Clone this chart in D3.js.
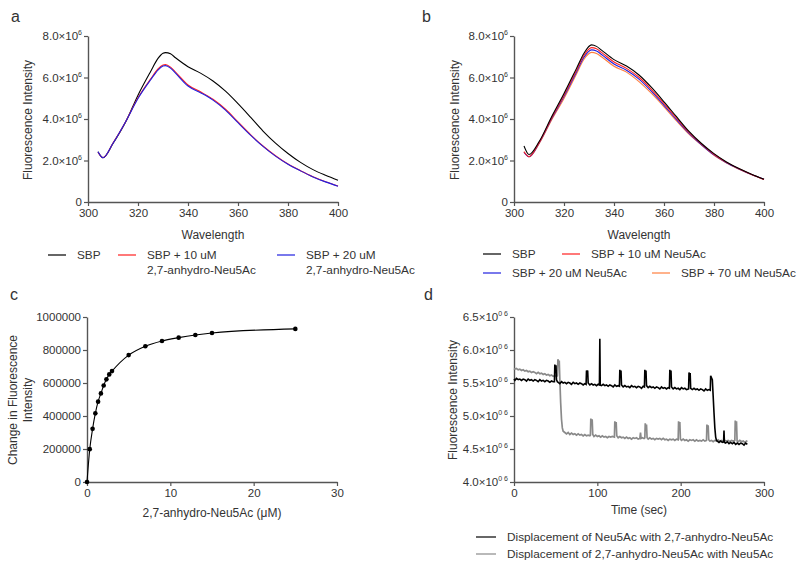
<!DOCTYPE html>
<html>
<head>
<meta charset="utf-8">
<script src="https://cdn.jsdelivr.net/npm/d3@7"></script>
<style>
  body { margin: 0; background: #fff; }
  svg text { font-family: "Liberation Sans", Arial, sans-serif; fill: #333; }
</style>
</head>
<body>
<div id="chart"></div>
<script>
// ---- data ----
// panel a : emission spectra, intensity in units of 1e6
var waveA = [304, 306, 310, 315, 320, 325, 328, 330, 331, 333, 335, 340, 345, 350, 355, 360, 365, 370, 375, 380, 385, 390, 395, 400];
var aSBP   = [2.42, 2.13, 2.82, 3.84, 5.15, 6.28, 6.92, 7.17, 7.20, 7.14, 6.95, 6.52, 6.21, 5.83, 5.34, 4.74, 4.09, 3.42, 2.84, 2.34, 1.91, 1.56, 1.29, 1.05];
var aAnh10 = [2.40, 2.14, 2.84, 3.86, 5.02, 5.92, 6.41, 6.60, 6.62, 6.50, 6.26, 5.64, 5.31, 4.95, 4.47, 3.86, 3.25, 2.70, 2.23, 1.83, 1.51, 1.22, 0.98, 0.77];
var aAnh20 = [2.42, 2.13, 2.83, 3.86, 4.99, 5.88, 6.36, 6.55, 6.57, 6.45, 6.21, 5.59, 5.27, 4.91, 4.43, 3.82, 3.22, 2.68, 2.21, 1.82, 1.50, 1.21, 0.97, 0.76];

// panel b
var waveB = [304, 306, 310, 315, 320, 325, 328, 331, 333, 335, 340, 345, 350, 355, 360, 365, 370, 375, 380, 385, 390, 395, 400];
var bSBP   = [2.70, 2.29, 2.90, 4.10, 5.23, 6.44, 7.17, 7.57, 7.50, 7.32, 6.86, 6.55, 6.12, 5.52, 4.83, 4.11, 3.40, 2.82, 2.33, 1.93, 1.61, 1.34, 1.10];
var bNeu10 = [2.42, 2.19, 2.85, 4.04, 5.15, 6.35, 7.07, 7.44, 7.38, 7.21, 6.75, 6.44, 6.01, 5.42, 4.74, 4.04, 3.35, 2.79, 2.30, 1.91, 1.60, 1.33, 1.09];
var bNeu20 = [2.40, 2.18, 2.83, 4.00, 5.08, 6.27, 6.98, 7.33, 7.28, 7.11, 6.65, 6.35, 5.92, 5.33, 4.66, 3.97, 3.31, 2.76, 2.27, 1.89, 1.59, 1.32, 1.09];
var bNeu70 = [2.42, 2.17, 2.80, 3.94, 4.99, 6.17, 6.88, 7.21, 7.16, 7.00, 6.54, 6.26, 5.80, 5.23, 4.59, 3.91, 3.27, 2.74, 2.25, 1.88, 1.58, 1.32, 1.08];

// panel c : titration
var concC   = [0, 0.33, 0.67, 1, 1.33, 1.67, 2, 2.33, 2.67, 3, 5, 7, 9, 11, 13, 15, 25];
var changeC = [0, 199000, 322000, 416000, 487000, 537000, 585000, 622000, 652000, 672000, 769000, 823000, 855000, 875000, 891000, 903000, 928000];

// panel d : time courses, intensity in units of 1e6
var dispNeu = [[0,5.56],[1,5.54],[3,5.57],[5,5.55],[7,5.56],[9,5.54],[11,5.56],[13,5.55],[15,5.53],[17,5.56],[19,5.54],[21,5.55],[23,5.53],[25,5.55],[27,5.54],[29,5.52],[31,5.55],[33,5.53],[35,5.54],[37,5.52],[39,5.54],[41,5.53],[43,5.51],[45,5.53],[47,5.52],[48.5,5.52],[49,5.78],[49.7,5.70],[50.4,5.77],[51,5.55],[52,5.52],[53,5.51],[55,5.49],[57,5.52],[59,5.50],[61,5.51],[63,5.49],[65,5.51],[67,5.50],[69,5.48],[71,5.51],[73,5.49],[75,5.50],[77,5.48],[79,5.50],[81,5.49],[83,5.47],[85,5.49],[86.5,5.48],[87,5.69],[87.7,5.62],[88.4,5.69],[89,5.50],[91,5.47],[93,5.49],[95,5.47],[97,5.48],[99,5.46],[101,5.48],[102.5,5.47],[103,6.17],[103.5,5.47],[105,5.46],[107,5.48],[109,5.46],[111,5.47],[113,5.45],[115,5.47],[117,5.46],[119,5.44],[121,5.47],[123,5.45],[125,5.46],[126.5,5.45],[127,5.70],[127.7,5.62],[128.4,5.69],[129,5.47],[131,5.44],[133,5.46],[135,5.44],[137,5.45],[139,5.43],[141,5.46],[143,5.44],[145,5.45],[147,5.43],[149,5.45],[151,5.44],[153,5.42],[155,5.45],[156.5,5.44],[157,5.70],[157.7,5.63],[158.4,5.69],[159,5.46],[161,5.43],[163,5.45],[165,5.43],[167,5.44],[169,5.42],[171,5.44],[173,5.43],[175,5.41],[177,5.44],[179,5.42],[181,5.43],[183,5.41],[185,5.43],[186.5,5.42],[187,5.70],[187.7,5.62],[188.4,5.69],[189,5.44],[191,5.41],[193,5.43],[195,5.41],[197,5.42],[199,5.40],[201,5.43],[203,5.41],[205,5.42],[207,5.40],[209.5,5.41],[210,5.66],[210.7,5.58],[211.4,5.65],[212,5.42],[214,5.40],[216,5.42],[218,5.40],[220,5.41],[222,5.39],[224,5.41],[226,5.40],[228,5.38],[230,5.41],[232,5.39],[234,5.40],[235.5,5.39],[236,5.61],[237,5.58],[238,5.55],[239,5.30],[240,5.05],[241,4.82],[242,4.68],[243,4.63],[244,4.62],[246,4.60],[248,4.62],[250,4.60],[251.5,4.61],[252,4.78],[252.5,4.60],[254,4.59],[256,4.61],[258,4.58],[260,4.60],[262,4.58],[264,4.60],[266,4.57],[268,4.59],[270,4.57],[272,4.59],[274,4.58],[276,4.56],[278,4.59],[280,4.57]];
var dispAnh = [[0,5.72],[1,5.71],[3,5.72],[5,5.70],[7,5.71],[9,5.69],[11,5.70],[13,5.68],[15,5.69],[17,5.67],[19,5.68],[21,5.66],[23,5.67],[25,5.66],[27,5.64],[29,5.66],[31,5.64],[33,5.65],[35,5.63],[37,5.64],[39,5.62],[41,5.63],[43,5.61],[45,5.62],[47,5.60],[49,5.61],[51,5.60],[52,5.61],[52.7,5.86],[53.5,5.80],[54.3,5.84],[55,5.55],[56,5.20],[57,4.95],[58,4.82],[59,4.77],[61,4.75],[63,4.73],[65,4.75],[67,4.72],[69,4.74],[71,4.72],[73,4.73],[75,4.71],[77,4.73],[79,4.71],[81,4.72],[83,4.70],[85,4.72],[87,4.70],[89,4.71],[91,4.70],[91.7,4.71],[92.2,4.96],[93,4.89],[93.8,4.95],[94.5,4.72],[96,4.69],[98,4.71],[100,4.69],[102,4.70],[104,4.68],[106,4.70],[108,4.68],[110,4.69],[112,4.67],[114,4.69],[116,4.68],[118,4.69],[120.5,4.68],[121,4.92],[121.8,4.85],[122.6,4.91],[123.3,4.70],[125,4.67],[127,4.69],[129,4.67],[131,4.68],[133,4.66],[135,4.68],[137,4.66],[139,4.67],[141,4.65],[143,4.67],[145,4.66],[147,4.67],[149,4.65],[151,4.66],[151.8,4.75],[152.5,4.66],[154,4.67],[156,4.66],[157,4.67],[157.5,4.89],[158.3,4.82],[159,4.87],[159.7,4.67],[161,4.65],[163,4.67],[165,4.65],[167,4.66],[169,4.64],[171,4.66],[173,4.65],[175,4.66],[177,4.64],[179,4.66],[181,4.64],[183,4.65],[185,4.63],[187,4.65],[189,4.64],[191,4.65],[193,4.63],[195,4.65],[197,4.64],[197.5,4.92],[198.3,4.85],[199,4.91],[199.7,4.65],[201,4.63],[203,4.65],[205,4.63],[207,4.64],[209,4.62],[211,4.64],[213,4.63],[215,4.64],[217,4.62],[219,4.64],[221,4.62],[223,4.63],[225,4.62],[227,4.64],[229,4.62],[231,4.63],[231.5,4.87],[232.3,4.80],[233,4.86],[233.7,4.64],[235,4.62],[237,4.63],[239,4.61],[241,4.63],[243,4.62],[245,4.64],[247,4.62],[249,4.63],[251,4.61],[253,4.63],[255,4.62],[257,4.63],[259,4.61],[261,4.63],[263,4.62],[265,4.63],[265.5,4.93],[266.3,4.86],[267,4.92],[267.7,4.62],[269,4.61],[271,4.63],[273,4.61],[275,4.62],[277,4.60],[279,4.62],[280,4.61]];

// tick values
var specYTicks = [0, 2, 4, 6, 8];
var specXTicks = [300, 320, 340, 360, 380, 400];
var cYTicks = [0, 200000, 400000, 600000, 800000, 1000000];
var cXTicks = [0, 10, 20, 30];
var dYTicks = [4.0, 4.5, 5.0, 5.5, 6.0, 6.5];
var dXTicks = [0, 100, 200, 300];

var svg = d3.select('#chart').append('svg')
  .attr('width', 800).attr('height', 568);

var axisColor = '#555';
var fs = 11.5;

// draws axes, returns the scales
function panel(x0, x1, y0, y1, xdom, ydom, xticks, yticks, yfmt) {
  var x = d3.scaleLinear().domain(xdom).range([x0, x1]);
  var y = d3.scaleLinear().domain(ydom).range([y0, y1]);

  var gx = svg.append('g').attr('transform', 'translate(0,' + y0 + ')')
    .call(d3.axisBottom(x).tickValues(xticks).tickSize(4).tickSizeOuter(0).tickPadding(3));
  var gy = svg.append('g').attr('transform', 'translate(' + x0 + ',0)')
    .call(d3.axisLeft(y).tickValues(yticks).tickSize(4).tickSizeOuter(0).tickFormat(function() { return ''; }));

  [gx, gy].forEach(function(g) {
    g.select('.domain').attr('stroke', axisColor).attr('stroke-width', 1.4);
    g.selectAll('.tick line').attr('stroke', axisColor).attr('stroke-width', 1.2);
    g.selectAll('text').attr('font-size', fs).attr('fill', '#333')
      .attr('font-family', '"Liberation Sans", Arial, sans-serif');
  });

  // y tick labels with optional superscript
  yticks.forEach(function(v) {
    var t = svg.append('text').attr('x', x0 - 6).attr('y', y(v) + 4)
      .attr('text-anchor', 'end').attr('font-size', fs);
    yfmt(t, v);
  });
  return {x: x, y: y};
}

function sciLabel(sup) {
  return function(t, v) {
    if (v === 0) { t.text('0'); return; }
    t.append('tspan').text(d3.format('.1f')(v) + '\u00d710');
    t.append('tspan').attr('font-size', 7).attr('dy', -5).text(sup);
  };
}

var line = function(sx, sy) {
  return d3.line().x(function(d) { return sx(d[0]); }).y(function(d) { return sy(d[1]); });
};

// ---- panel a ----
var pa = panel(88, 338, 202, 36, [300, 400], [0, 8], specXTicks, specYTicks, sciLabel('6'));
var aSeries = [[aSBP, '#000'], [aAnh10, '#ff2020'], [aAnh20, '#2020e0']];
aSeries.forEach(function(s) {
  svg.append('path')
    .datum(waveA.map(function(w, i) { return [w, s[0][i]]; }))
    .attr('fill', 'none').attr('stroke', s[1]).attr('stroke-width', 1.1)
    .attr('d', line(pa.x, pa.y).curve(d3.curveMonotoneX));
});

// ---- panel b ----
var pb = panel(514, 764, 202, 36, [300, 400], [0, 8], specXTicks, specYTicks, sciLabel('6'));
var bSeries = [[bNeu70, '#ff7f3f'], [bNeu20, '#2020e0'], [bNeu10, '#ff2020'], [bSBP, '#000']];
bSeries.forEach(function(s) {
  svg.append('path')
    .datum(waveB.map(function(w, i) { return [w, s[0][i]]; }))
    .attr('fill', 'none').attr('stroke', s[1]).attr('stroke-width', 1.1)
    .attr('d', line(pb.x, pb.y).curve(d3.curveMonotoneX));
});

// ---- panel c ----
var pc = panel(87, 337, 482, 317, [0, 30], [0, 1000000], cXTicks, cYTicks, function(t, v) { t.text(v); });
var cData = concC.map(function(c, i) { return [c, changeC[i]]; });
svg.append('path').datum(cData)
  .attr('fill', 'none').attr('stroke', '#000').attr('stroke-width', 1.1)
  .attr('d', line(pc.x, pc.y).curve(d3.curveMonotoneX));
svg.selectAll('circle.c').data(cData).enter().append('circle')
  .attr('class', 'c')
  .attr('cx', function(d) { return pc.x(d[0]); })
  .attr('cy', function(d) { return pc.y(d[1]); })
  .attr('r', 2.3).attr('fill', '#000');

// ---- panel d ----
var pd = panel(514, 764, 482, 317, [0, 300], [4.0, 6.5], dXTicks, dYTicks, sciLabel('0 6'));
svg.append('path').datum(dispAnh)
  .attr('fill', 'none').attr('stroke', '#8a8a8a').attr('stroke-width', 1.7)
  .attr('d', line(pd.x, pd.y));
svg.append('path').datum(dispNeu)
  .attr('fill', 'none').attr('stroke', '#000').attr('stroke-width', 1.6)
  .attr('d', line(pd.x, pd.y));

// ---- axis titles ----
function ytitle(x, y, lines) {
  var t = svg.append('text').attr('transform', 'translate(' + x + ',' + y + ') rotate(-90)')
    .attr('text-anchor', 'middle').attr('font-size', 12);
  lines.forEach(function(l, i) {
    t.append('tspan').attr('x', 0).attr('dy', i === 0 ? 0 : 15).text(l);
  });
}
function xtitle(x, y, s) {
  svg.append('text').attr('x', x).attr('y', y).attr('text-anchor', 'middle')
    .attr('font-size', 12).text(s);
}
ytitle(32, 120, ['Fluorescence Intensity']);
ytitle(459, 120, ['Fluorescence Intensity']);
ytitle(17, 400, ['Change in Fluorescence', 'Intensity']);
ytitle(457, 400, ['Fluorescence Intensity']);
xtitle(213, 239, 'Wavelength');
xtitle(639, 239, 'Wavelength');
xtitle(212, 517, '2,7-anhydro-Neu5Ac (\u03bcM)');
xtitle(639, 514, 'Time (sec)');

// ---- panel letters ----
[['a', 11, 22], ['b', 422, 22], ['c', 10, 300], ['d', 424, 300]].forEach(function(p) {
  svg.append('text').attr('x', p[1]).attr('y', p[2]).attr('font-size', 16)
    .attr('fill', '#000').text(p[0]);
});

// ---- legends ----
function legendItem(x, y, color, lines, w) {
  svg.append('line').attr('x1', x).attr('x2', x + (w || 18)).attr('y1', y).attr('y2', y)
    .attr('stroke', color).attr('stroke-width', 1.2);
  lines.forEach(function(l, i) {
    svg.append('text').attr('x', x + (w || 18) + 11).attr('y', y + 4 + i * 15)
      .attr('font-size', 11.8).text(l);
  });
}
legendItem(48, 255, '#000', ['SBP']);
legendItem(118, 255, '#ff2020', ['SBP + 10 uM', '2,7-anhydro-Neu5Ac']);
legendItem(277, 255, '#2020e0', ['SBP + 20 uM', '2,7-anhydro-Neu5Ac']);

legendItem(483, 254, '#000', ['SBP']);
legendItem(562, 254, '#ff2020', ['SBP + 10 uM Neu5Ac']);
legendItem(483, 273, '#2020e0', ['SBP + 20 uM Neu5Ac']);
legendItem(652, 273, '#ff7f3f', ['SBP + 70 uM Neu5Ac']);

legendItem(476, 537, '#000', ['Displacement of Neu5Ac with 2,7-anhydro-Neu5Ac'], 20);
legendItem(476, 554, '#8a8a8a', ['Displacement of 2,7-anhydro-Neu5Ac with Neu5Ac'], 20);
</script>
</body>
</html>
